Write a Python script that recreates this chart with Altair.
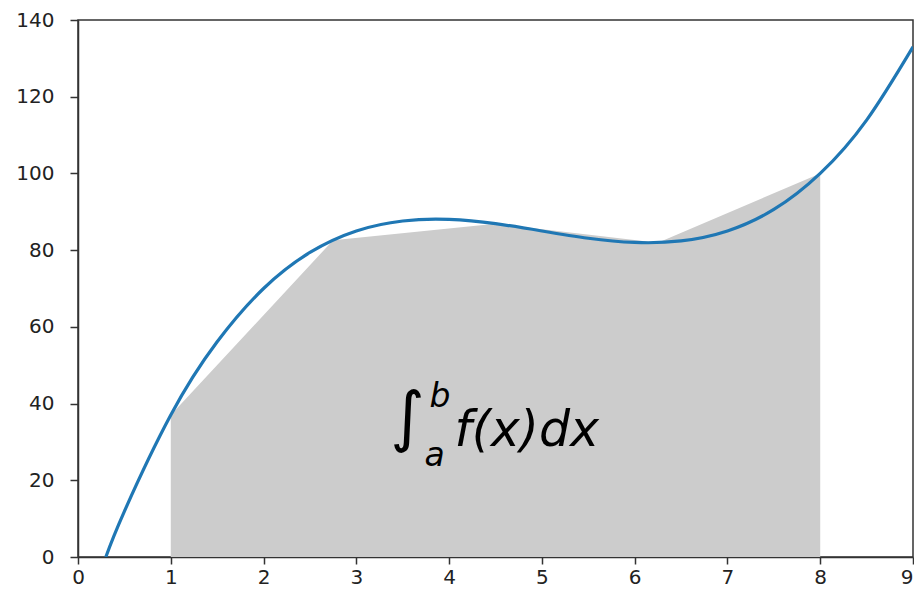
import altair as alt
import pandas as pd

# curve f(x)
curve_x = [0.3, 0.5, 1, 1.5, 2, 2.5, 3, 3.5, 4, 4.5, 5, 5.5, 6, 6.5, 7, 7.5, 8, 8.5, 9]
curve_y = [0, 11.9, 37, 56.1, 70, 79.4, 85, 87.6, 88, 86.9, 85, 83.1, 82, 82.4, 85, 90.6, 100, 113.9, 133]

# shaded polygon vertices (coarse approximation of the integral)
poly_x = [1, 2.75, 4.5, 6.25, 8]
poly_y = [37, 82.6, 86.9, 81.95, 100]

x_ticks = [0, 1, 2, 3, 4, 5, 6, 7, 8, 9]
y_ticks = [0, 20, 40, 60, 80, 100, 120, 140]

curve = pd.DataFrame({"x": curve_x, "y": curve_y})
poly = pd.DataFrame({"x": poly_x, "y": poly_y})

xs = alt.Scale(domain=[0, 9], nice=False, zero=False)
ys = alt.Scale(domain=[0, 140], nice=False)

xaxis = alt.Axis(values=x_ticks, format="d", title=None, grid=False, tickSize=7, labelPadding=3,
                 labelFontSize=20, labelFont="DejaVu Sans", labelColor="#222",
                 labelAlign=alt.expr("datum.value == 9 ? 'right' : 'center'"),
                 domainColor="#333", tickColor="#333", domainWidth=1.5, tickWidth=1.5,
                 labelFlush=False)
yaxis = alt.Axis(values=y_ticks, format="d", title=None, grid=False, tickSize=8, labelPadding=16,
                 labelFontSize=20, labelFont="DejaVu Sans", labelColor="#222",
                 domainColor="#333", tickColor="#333", domainWidth=1.5, tickWidth=1.5,
                 labelFlush=False)

area = alt.Chart(poly).mark_area(color="#cccccc", opacity=1, interpolate="linear").encode(
    x=alt.X("x:Q", scale=xs, axis=xaxis),
    y=alt.Y("y:Q", scale=ys, axis=yaxis),
)

line = alt.Chart(curve).mark_line(color="#1f77b4", strokeWidth=3.2, interpolate="natural", clip=True).encode(
    x=alt.X("x:Q", scale=xs),
    y=alt.Y("y:Q", scale=ys),
)

ax, ay = 4.5, 30

integral = alt.Chart().mark_text(text="∫", fontSize=66, font="DejaVu Sans", align="center",
                                 baseline="alphabetic", dx=-88, dy=-3, color="black").encode(
    x=alt.datum(ax, scale=xs), y=alt.datum(ay, scale=ys))
sup_b = alt.Chart().mark_text(text="b", fontSize=33, font="DejaVu Sans", fontStyle="italic",
                              align="left", baseline="alphabetic", dx=-66, dy=-35, color="black").encode(
    x=alt.datum(ax, scale=xs), y=alt.datum(ay, scale=ys))
sub_a = alt.Chart().mark_text(text="a", fontSize=33, font="DejaVu Sans", fontStyle="italic",
                              align="left", baseline="alphabetic", dx=-71, dy=24, color="black").encode(
    x=alt.datum(ax, scale=xs), y=alt.datum(ay, scale=ys))
body = alt.Chart().mark_text(text="f(x)dx", fontSize=49, font="DejaVu Sans", fontStyle="italic",
                             align="left", baseline="alphabetic", dx=-41, dy=4, color="black").encode(
    x=alt.datum(ax, scale=xs), y=alt.datum(ay, scale=ys))

chart = alt.layer(area, line, integral, sup_b, sub_a, body).properties(
    width=835, height=537,
    autosize=alt.AutoSizeParams(type="none"),
    padding={"left": 70, "top": 12, "right": 1, "bottom": 30},
).configure_view(stroke="#333", strokeWidth=1.5)

chart.save("out.html", embed_options={"renderer": "svg", "actions": False})
